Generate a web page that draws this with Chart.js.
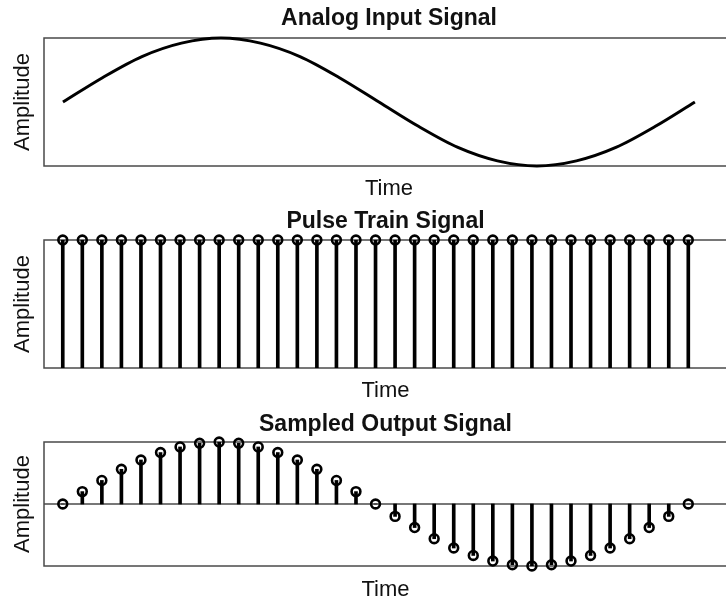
<!DOCTYPE html>
<html>
<head>
<meta charset="utf-8">
<title>Analog / Pulse Train / Sampled Output</title>
<script src="https://cdn.jsdelivr.net/npm/chart.js@4.4.1/dist/chart.umd.min.js"></script>
<style>
  html, body { margin: 0; padding: 0; background: #fff; overflow: hidden; }
  #wrap { position: relative; width: 726px; height: 602px; overflow: hidden; }
  canvas { position: absolute; left: 0; }
</style>
</head>
<body>
<div id="wrap">
  <canvas id="analog" width="734" height="210" style="top:0px"></canvas>
  <canvas id="pulse" width="734" height="210" style="top:200px"></canvas>
  <canvas id="sampled" width="734" height="210" style="top:400px"></canvas>
</div>
<script>
// --- data
const sampleTimes = [0, 1, 2, 3, 4, 5, 6, 7, 8, 9, 10, 11, 12, 13, 14, 15, 16,
  17, 18, 19, 20, 21, 22, 23, 24, 25, 26, 27, 28, 29, 30, 31, 32];
const pulseValues = [1, 1, 1, 1, 1, 1, 1, 1, 1, 1, 1, 1, 1, 1, 1, 1, 1,
  1, 1, 1, 1, 1, 1, 1, 1, 1, 1, 1, 1, 1, 1, 1, 1];
const sampledValues = [0, 0.20, 0.38, 0.56, 0.71, 0.83, 0.92, 0.98, 1.00, 0.98, 0.92, 0.83, 0.71, 0.56, 0.38, 0.20, 0,
  -0.20, -0.38, -0.56, -0.71, -0.83, -0.92, -0.98, -1.00, -0.98, -0.92, -0.83, -0.71, -0.56, -0.38, -0.20, 0];
const analogTimes = [0, 2, 4, 6, 8, 10, 12, 14, 16, 18, 20, 22, 24, 26, 28, 30, 32];
const analogValues = [0, 0.38, 0.71, 0.92, 1.00, 0.92, 0.71, 0.38, 0, -0.38, -0.71, -0.92, -1.00, -0.92, -0.71, -0.38, 0];

const titles = ['Analog Input Signal', 'Pulse Train Signal', 'Sampled Output Signal'];
const xLabel = 'Time';
const yLabel = 'Amplitude';

const X_MIN = -0.96, X_MAX = 33.98;
const INK = '#111';

Chart.defaults.font.family = "'Liberation Sans', Arial, Helvetica, sans-serif";
Chart.defaults.color = INK;

const toPoints = (xs, ys) => xs.map((x, i) => ({x, y: ys[i]}));

// box round the plot area, plus optional zero line
const framePlugin = {
  id: 'frame',
  beforeDatasetsDraw(chart, args, opts) {
    const {ctx, chartArea: {left, top, right, bottom}, scales: {y}} = chart;
    ctx.save();
    ctx.strokeStyle = '#4a4a4a';
    ctx.lineWidth = 1.5;
    ctx.strokeRect(left, top, right - left, bottom - top);
    if (opts.zeroLine) {
      const y0 = y.getPixelForValue(0);
      ctx.beginPath();
      ctx.moveTo(left, y0);
      ctx.lineTo(right, y0);
      ctx.stroke();
    }
    ctx.restore();
  }
};

function makeOptions(title, yMin, yMax, lay) {
  return {
    responsive: false,
    animation: false,
    layout: {padding: 0},
    plugins: {
      legend: {display: false},
      tooltip: {enabled: false},
      title: {
        display: true, text: title, fullSize: false, color: INK,
        font: {size: 23, weight: 'bold'},
        padding: {top: lay.titleTop, bottom: lay.titleBottom}
      },
      frame: {zeroLine: !!lay.zeroLine}
    },
    scales: {
      x: {
        type: 'linear', min: X_MIN, max: X_MAX, offset: false,
        grid: {display: false}, border: {display: false}, ticks: {display: false},
        title: {display: true, text: xLabel, color: INK, font: {size: 22}, padding: {top: 0, bottom: lay.timeBottom}},
        afterFit: s => { s.height = lay.xHeight; }
      },
      y: {
        type: 'linear', min: yMin, max: yMax,
        grid: {display: false}, border: {display: false}, ticks: {display: false},
        title: {display: true, text: yLabel, color: INK, font: {size: 22}, padding: {top: 10, bottom: 0}},
        afterFit: s => { s.width = 44; }
      }
    }
  };
}

function stemDatasets(values) {
  const pts = toPoints(sampleTimes, values);
  return [
    {
      type: 'scatter', data: pts, order: 0, clip: false,
      pointStyle: 'circle', pointRadius: 4.4, pointBorderWidth: 2.6,
      pointBorderColor: '#000', pointBackgroundColor: 'rgba(0,0,0,0)'
    },
    {
      type: 'bar', data: pts, order: 1,
      barThickness: 3, backgroundColor: '#000', borderWidth: 0
    }
  ];
}

// Analog input
new Chart(document.getElementById('analog'), {
  type: 'line',
  data: {
    datasets: [{
      data: toPoints(analogTimes, analogValues),
      borderColor: '#000', borderWidth: 3, pointRadius: 0,
      cubicInterpolationMode: 'monotone', clip: false
    }]
  },
  options: makeOptions(titles[0], -1, 1, {titleTop: 5.2, titleBottom: 5.2, xHeight: 44, timeBottom: 7.8}),
  plugins: [framePlugin]
});

// Pulse train
new Chart(document.getElementById('pulse'), {
  type: 'bar',
  data: {datasets: stemDatasets(pulseValues)},
  options: makeOptions(titles[1], 0, 1, {titleTop: 8.2, titleBottom: 4.2, xHeight: 42, timeBottom: 5.8}),
  plugins: [framePlugin]
});

// Sampled output
new Chart(document.getElementById('sampled'), {
  type: 'bar',
  data: {datasets: stemDatasets(sampledValues)},
  options: makeOptions(titles[2], -1, 1, {titleTop: 11.2, titleBottom: 3.2, xHeight: 44, timeBottom: 6.8, zeroLine: true}),
  plugins: [framePlugin]
});
</script>
</body>
</html>
